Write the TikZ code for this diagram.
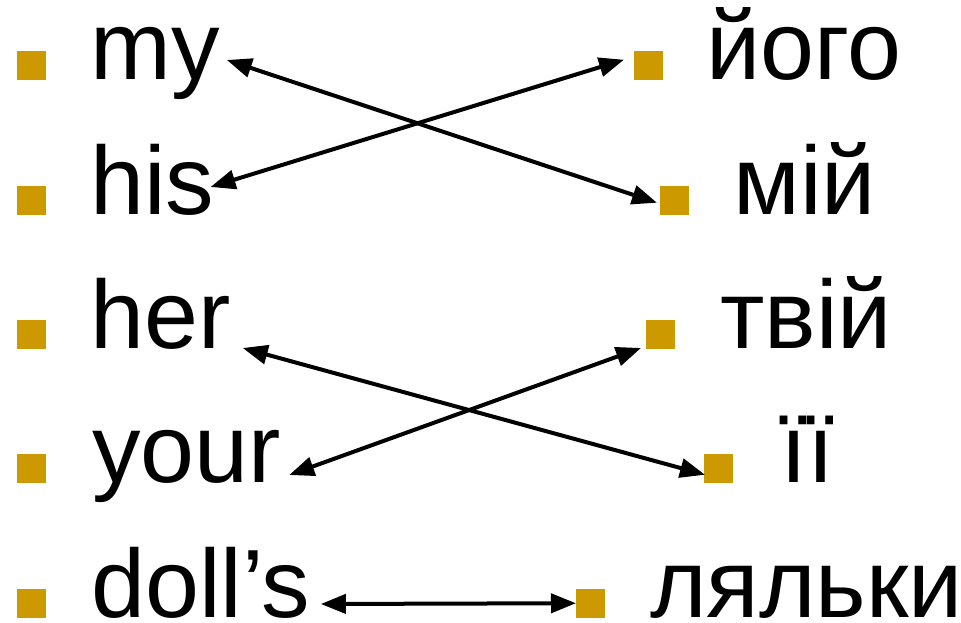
\documentclass[tikz,border=0pt]{standalone}
\usepackage{fontspec}
\setmainfont{Liberation Sans}
\usetikzlibrary{arrows.meta,calc}
\definecolor{bulletgold}{RGB}{204,153,0}
\begin{document}
\begin{tikzpicture}[x=0.75pt,y=0.75pt,yscale=-1,xscale=1,
  sq/.style={fill=bulletgold,draw=none,minimum size=21.75pt,inner sep=0pt,anchor=south west},
  word/.style={anchor=base west,inner sep=0pt,font=\fontsize{72.75}{80}\selectfont},
  pair/.style={line width=3pt,{Triangle[length=18.75pt,width=14.25pt]}-{Triangle[length=18.75pt,width=14.25pt]}}]
\useasboundingbox (0,0) rectangle (961,623);

% Left column
\node [sq] (b-my) at (17,80) {};
\node [word] (my) at (90,80) {my};
\node [sq] (b-his) at (17,215) {};
\node [word] (his) at (90,215) {his};
\node [sq] (b-her) at (17,349) {};
\node [word] (her) at (90,349) {her};
\node [sq] (b-your) at (17,483) {};
\node [word] (your) at (92,483) {your};
\node [sq] (b-dolls) at (17,618) {};
\node [word] (dolls) at (91,618) {doll’s};

% Right column
\node [sq] (b-yoho) at (634,80) {};
\node [word] (yoho) at (706,80) {його};
\node [sq] (b-miy) at (660,215) {};
\node [word] (miy) at (733,215) {мій};
\node [sq] (b-tviy) at (646,349) {};
\node [word] (tviy) at (720,349) {твій};
\node [sq] (b-yiyi) at (704,483) {};
\node [word] (yiyi) at (780,483) {її};
\node [sq] (b-lyalky) at (576,618) {};
\node [word] (lyalky) at (650,618) {ляльки};

% Double arrows
\draw [pair] ($(my.base east)+(7,-20)$) -- ($(b-miy.west)+(-3,2.5)$);
\draw [pair] ($(his.base east)+(-4,-28)$) -- ($(b-yoho.west)+(-10,-5.5)$);
\draw [pair] ($(her.base east)+(12,-1)$) -- ($(b-yiyi.west)+(1,6.5)$);
\draw [pair] ($(your.base east)+(8,-8)$) -- ($(b-tviy.south west)+(-5,-1)$);
\draw [pair] ($(dolls.base east)+(10,-14)$) -- (b-lyalky.west);

\end{tikzpicture}
\end{document}
